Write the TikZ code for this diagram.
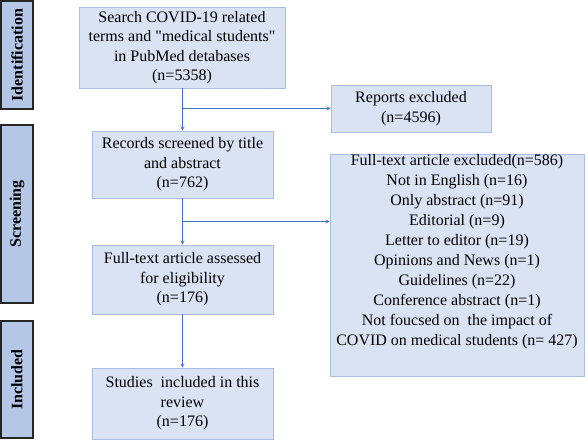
\documentclass[tikz,border=0pt]{standalone}
\usepackage{fontspec}
\setmainfont{Liberation Serif}[Ligatures=TeXOff]
\usetikzlibrary{calc}
\definecolor{boxfill}{HTML}{DAE3F3}
\definecolor{boxline}{HTML}{A9BEE0}
\definecolor{stagefill}{HTML}{B4C7E7}
\definecolor{flowline}{HTML}{4472C4}

\begin{document}
\begin{tikzpicture}[x=1pt, y=-1pt,
    box/.style={draw=boxline, line width=0.8pt, fill=boxfill, align=center, inner sep=0pt, font=\rmfamily\fontsize{16}{19.5}\selectfont},
    stage/.style={draw=black!85, line width=1.4pt, fill=stagefill, rotate=90, inner sep=0pt, minimum height=32pt, font=\rmfamily\fontsize{16}{19.5}\selectfont\bfseries},
    flow/.style={draw=flowline, line width=0.8pt, ->, >=stealth}]
    \useasboundingbox (0,0) rectangle (588,440);

    % Stage labels on the left
    \node[stage, minimum width=108pt] (ident) at (17,55) {Identification};
    \node[stage, minimum width=178pt] (screen) at (17,214) {Screening};
    \node[stage, minimum width=117pt] (incl) at (17,379.5) {Included};

    % Main column
    \node[box, minimum width=206pt, minimum height=81pt] (search) at (182,47.5) {
        Search COVID-19 related\\
        terms and "medical students"\\
        in PubMed detabases\\
        (n=5358)
    };
    \node[box, minimum width=181pt, minimum height=67pt] (records) at (182.5,164.5) {
        Records screened by title\\
        and abstract\\
        (n=762)
    };
    \node[box, minimum width=181pt, minimum height=69pt] (assessed) at (182.5,279.5) {
        Full-text article assessed\\
        for eligibility\\
        (n=176)
    };
    \node[box, minimum width=181pt, minimum height=71pt] (studies) at (182.5,403.5) {
        Studies\ \ included in this\\
        review\\
        (n=176)
    };

    % Exclusions on the right
    \node[box, minimum width=160pt, minimum height=47pt] (reports) at (411,108.5) {
        Reports excluded\\
        (n=4596)
    };
    \node[box, minimum width=254pt, minimum height=222pt] (fullexcl) at (457,265) {};
    \node[anchor=north, align=center, inner sep=0pt, font=\rmfamily\fontsize{16}{19.9}\selectfont] (fullexcltext) at ([yshift=-1pt]fullexcl.north) {
        Full-text article excluded(n=586)\\
        Not in English (n=16)\\
        Only abstract (n=91)\\
        Editorial (n=9)\\
        Letter to editor (n=19)\\
        Opinions and News (n=1)\\
        Guidelines (n=22)\\
        Conference abstract (n=1)\\
        Not foucsed on\ \ the impact of\\
        COVID on medical students (n= 427)
    };

    % Arrows
    \coordinate (split1) at (search.south |- reports.west);
    \coordinate (split2) at ($(records.south)!0.5!(assessed.north)$);
    \draw[flow] (search.south -| records.south) -- (records.north);
    \draw[flow] (split1 -| records.south) -- (reports.west);
    \draw[flow] (records.south) -- (assessed.north);
    \draw[flow] (split2) -- (split2 -| fullexcl.west);
    \draw[flow] (assessed.south) -- (studies.north);
\end{tikzpicture}
\end{document}
